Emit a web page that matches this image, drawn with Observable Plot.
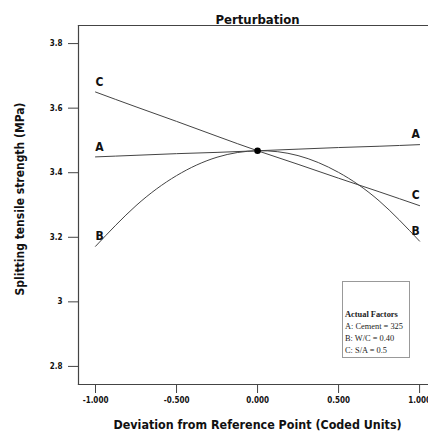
<!DOCTYPE html>
<html><head><meta charset="utf-8">
<script src="https://cdn.jsdelivr.net/npm/d3@7"></script>
<script src="https://cdn.jsdelivr.net/npm/@observablehq/plot@0.6"></script>
<style>
body{margin:0;background:#fff;}
#wrap{position:relative;width:428px;height:441px;overflow:hidden;}
#legend{position:absolute;left:342px;top:281px;width:66px;height:75px;border:1px solid #999;background:#fff;
 font-family:"Liberation Serif","Times New Roman",serif;font-size:8.4px;line-height:12px;color:#222;box-sizing:content-box;}
#legend .in{position:absolute;left:2px;top:27px;white-space:nowrap;}
#legend b{font-weight:bold;}
</style></head>
<body><div id="wrap"></div>
<script>
const title = "Perturbation";
const xLabel = "Deviation from Reference Point (Coded Units)";
const yLabel = "Splitting tensile strength (MPa)";
const xTicks = [-1, -0.5, 0, 0.5, 1];
const yTicks = [2.8, 3.0, 3.2, 3.4, 3.6, 3.8];
const deviation = [-1, -0.75, -0.5, -0.25, 0, 0.25, 0.5, 0.75, 1];
const factorA = [3.449, 3.454, 3.459, 3.463, 3.468, 3.473, 3.478, 3.482, 3.487];
const factorB = [3.172, 3.298, 3.391, 3.448, 3.468, 3.453, 3.401, 3.313, 3.188];
const factorC = [3.650, 3.604, 3.559, 3.513, 3.468, 3.426, 3.383, 3.341, 3.298];
const refPoint = {x: 0, y: 3.468};
const legendTitle = "Actual Factors";
const legendLines = ["A: Cement = 325", "B: W/C = 0.40", "C: S/A = 0.5"];

const series = [["A", factorA], ["B", factorB], ["C", factorC]];
const rows = series.flatMap(([name, vals]) => deviation.map((x, i) => ({name, x, y: vals[i]})));
const leftEnds = series.map(([name, vals]) => ({name, x: deviation[0], y: vals[0]}));
const rightEnds = series.map(([name, vals]) => ({name, x: deviation[deviation.length-1], y: vals[vals.length-1]}));

const FONT = '"DejaVu Sans Condensed","DejaVu Sans",sans-serif';
const ink = "#444";

const chart = Plot.plot({
  width: 428, height: 441,
  marginLeft: 78, marginRight: 0, marginTop: 25, marginBottom: 57,
  style: {fontFamily: FONT, fontWeight: "bold", fontStretch: "condensed", color: "#111", background: "#fff", overflow: "visible"},
  x: {domain: [-1.105, 1.055]},
  y: {domain: [2.744, 3.856]},
  marks: [
    Plot.axisX({ticks: xTicks, tickFormat: d => d.toFixed(3), tickSize: 9, tickPadding: 4, fontSize: 8, stroke: ink, label: null}),
    Plot.axisY({ticks: yTicks, tickFormat: d => String(+d.toFixed(1)), tickSize: 10, tickPadding: 6, fontSize: 8, stroke: ink, label: null}),
    Plot.frame({anchor: "left", stroke: ink, strokeWidth: 1.2}),
    Plot.frame({anchor: "top", stroke: ink, strokeWidth: 1.2}),
    Plot.frame({anchor: "bottom", stroke: ink, strokeWidth: 1.2}),
    Plot.line(rows, {x: "x", y: "y", z: "name", curve: "natural", stroke: ink, strokeWidth: 1}),
    Plot.dot([refPoint], {x: "x", y: "y", r: 3.3, fill: "#000"}),
    Plot.text(leftEnds, {x: "x", y: "y", text: "name", dx: 4, dy: -10, fontSize: 12, fontWeight: "bold", fill: "#111"}),
    Plot.text(rightEnds, {x: "x", y: "y", text: "name", dx: -4, dy: -10, fontSize: 12, fontWeight: "bold", fill: "#111"}),
    Plot.text([title], {x: [0], text: d => d, frameAnchor: "top", dy: -11, fontSize: 13, fontWeight: "bold", fill: "#111"}),
    Plot.text([xLabel], {x: [0], text: d => d, frameAnchor: "bottom", dy: 44, fontSize: 12.4, fontWeight: "bold", fill: "#111"}),
    Plot.text([yLabel], {text: d => d, frameAnchor: "left", textAnchor: "middle", dx: -58, dy: -6, rotate: -90, fontSize: 12, fontWeight: "bold", fill: "#111"})
  ]
});
const wrap = document.getElementById("wrap");
wrap.appendChild(chart);
const lg = document.createElement("div");
lg.id = "legend";
lg.innerHTML = '<div class="in"><b>' + legendTitle + '</b><br>' + legendLines.join("<br>") + '</div>';
wrap.appendChild(lg);
</script>
</body></html>
